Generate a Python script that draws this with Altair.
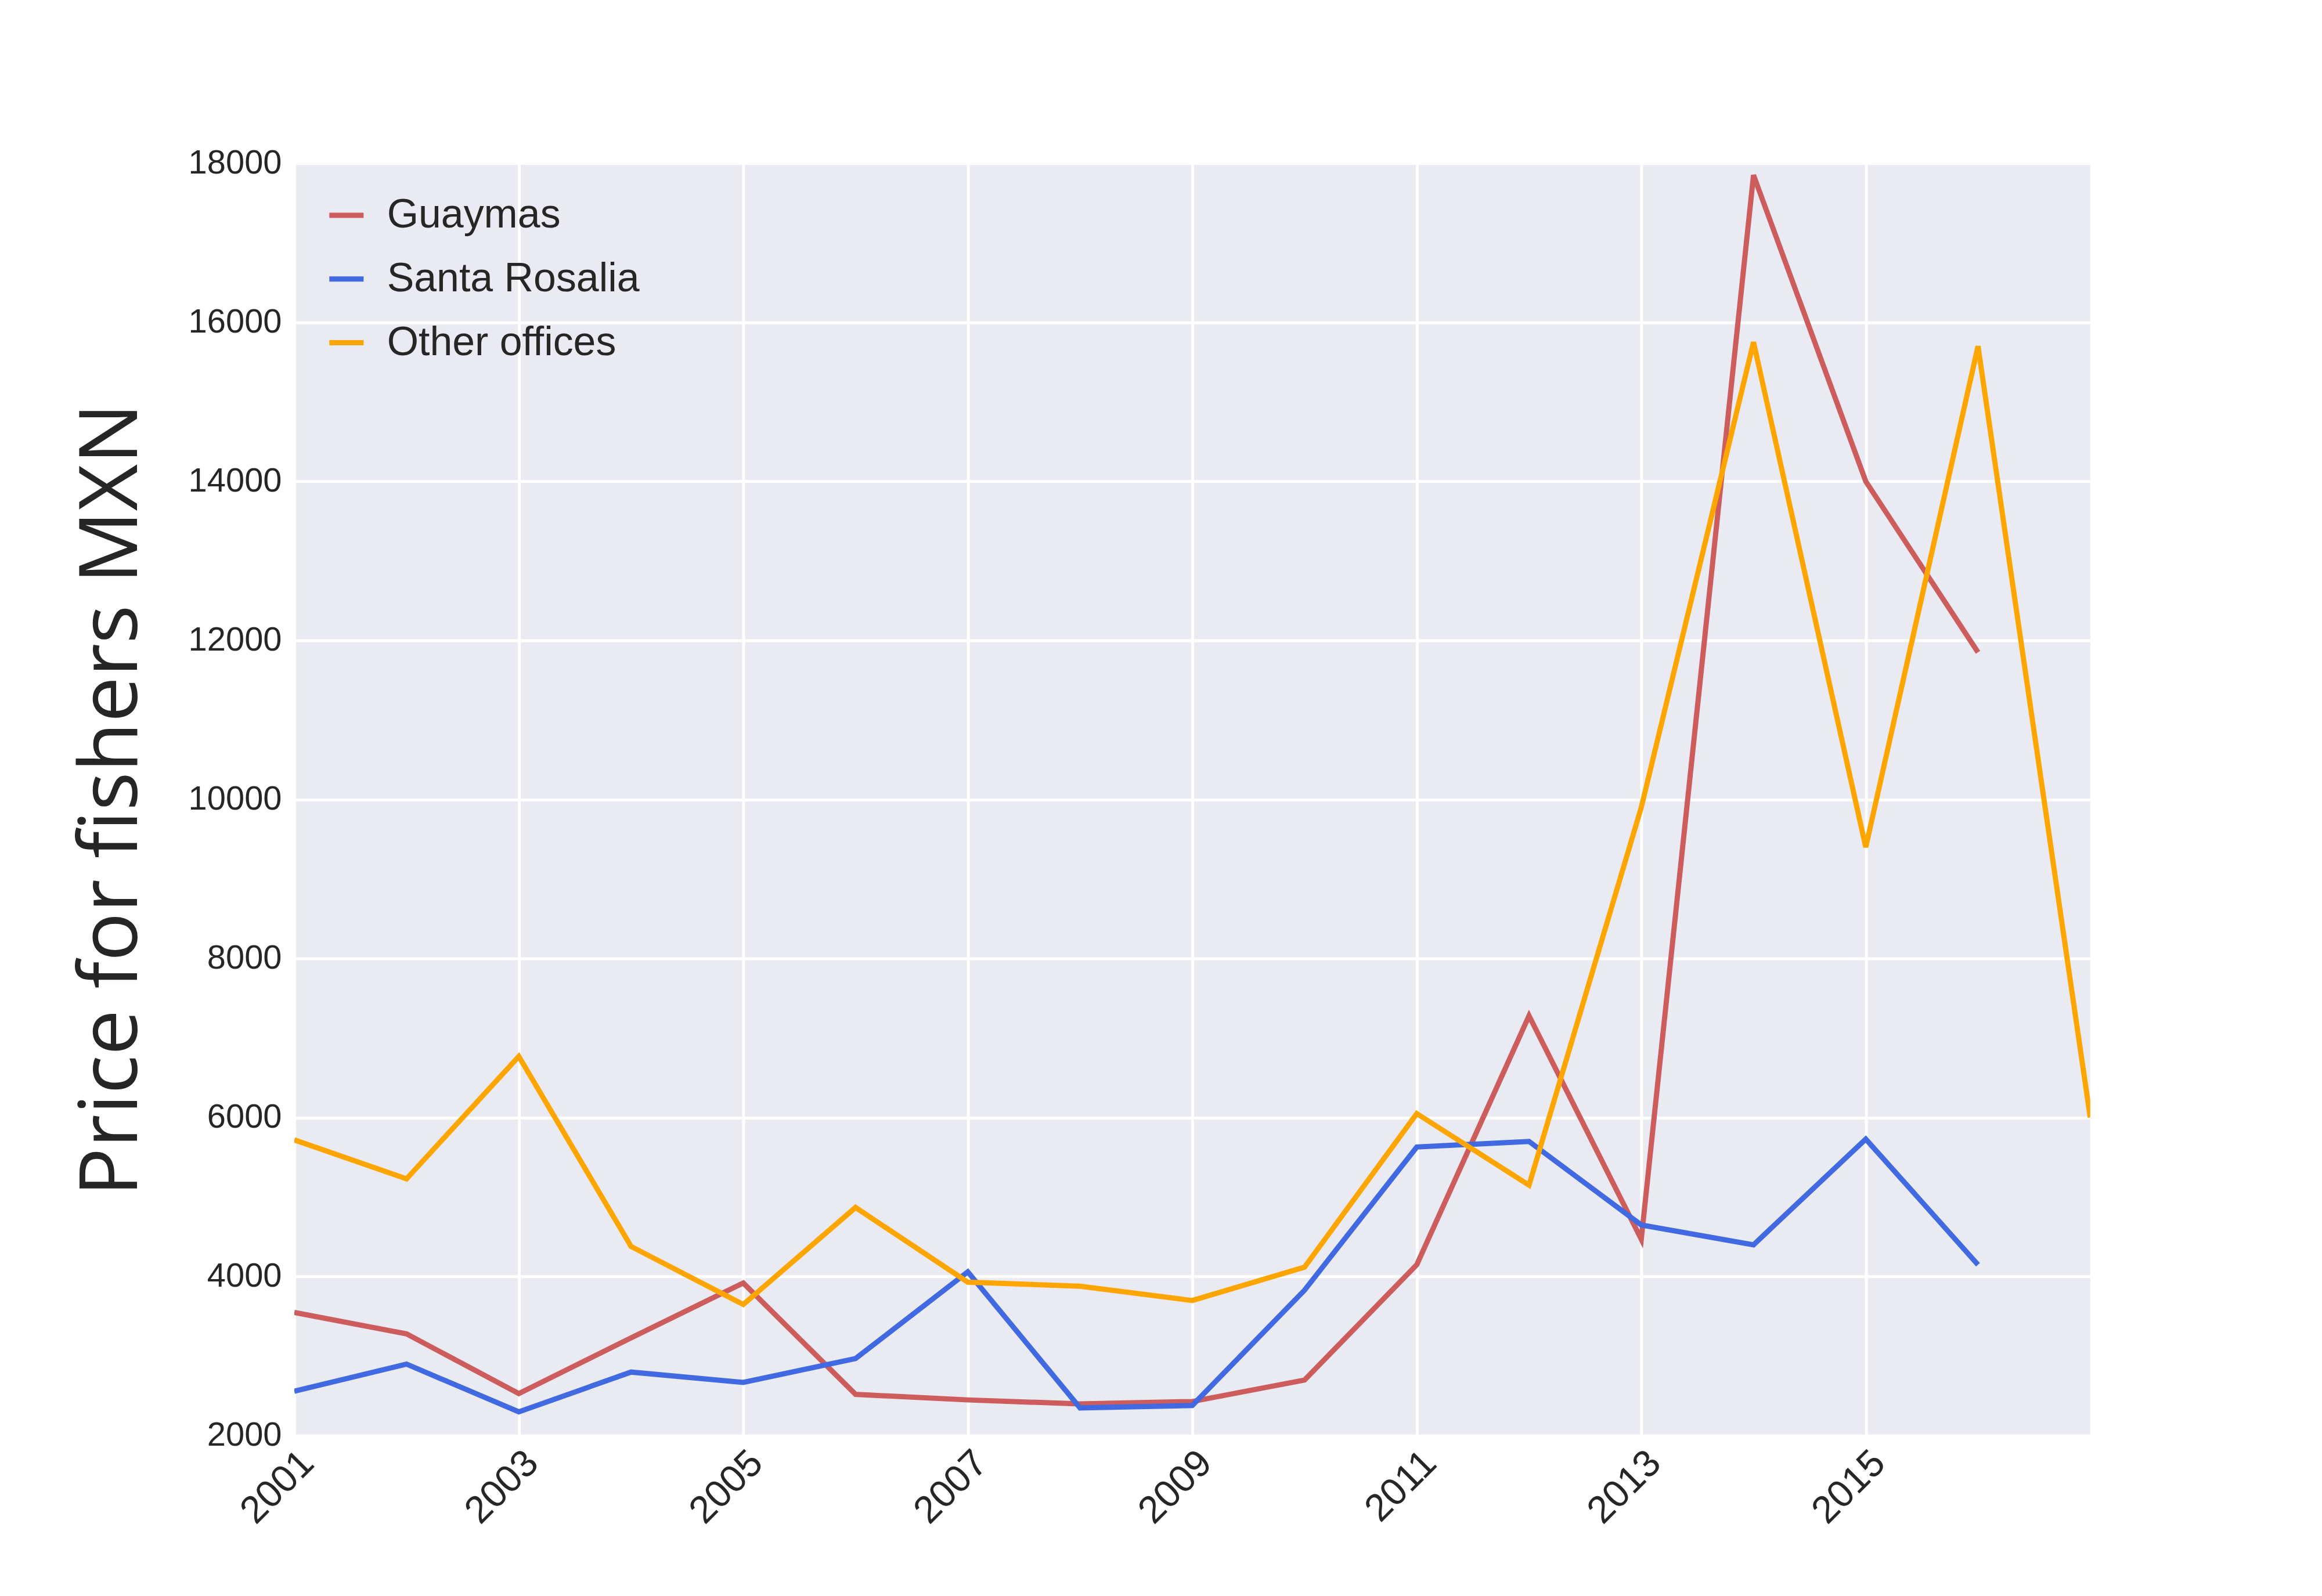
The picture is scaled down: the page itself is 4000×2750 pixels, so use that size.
import altair as alt
import pandas as pd

years = list(range(2001, 2018))
guaymas = [3550, 3280, 2530, 3230, 3920, 2520, 2450, 2400, 2430, 2700, 4150, 7280, 4470, 17850, 14000, 11850]
santa_rosalia = [2560, 2900, 2300, 2800, 2670, 2970, 4060, 2350, 2380, 3830, 5630, 5700, 4650, 4400, 5730, 4150]
other = [5720, 5230, 6770, 4380, 3650, 4870, 3930, 3880, 3700, 4120, 6050, 5150, 9900, 15750, 9400, 15700, 6000]

series = ["Guaymas", "Santa Rosalia", "Other offices"]
colors = ["#CD5C5C", "#4169E1", "#FFA500"]

rows = []
for name, vals in zip(series, [guaymas, santa_rosalia, other]):
    for y, v in zip(years, vals):
        rows.append({"year": y, "price": v, "office": name})
df = pd.DataFrame(rows)

chart = alt.Chart(df).mark_line(strokeWidth=9, clip=True).encode(
    x=alt.X("year:Q", title=None, scale=alt.Scale(domain=[2001, 2017], nice=False, zero=False),
            axis=alt.Axis(values=list(range(2001, 2017, 2)), format="d", labelAngle=-45,
                          labelAlign="right", labelBaseline="top", labelFontSize=66,
                          labelPadding=14)),
    y=alt.Y("price:Q", title="Price for fishers MXN",
            scale=alt.Scale(domain=[2000, 18000], nice=False, zero=False),
            axis=alt.Axis(values=list(range(2000, 18001, 2000)), format="d", labelFontSize=58,
                          titleFontSize=140, titleFontWeight="normal", titlePadding=60,
                          labelPadding=22)),
    color=alt.Color("office:N", scale=alt.Scale(domain=series, range=colors), sort=series,
                    legend=alt.Legend(title=None, orient="none", legendX=55, legendY=55,
                                      labelFontSize=70, labelLimit=0, symbolType="stroke",
                                      symbolSize=3500, symbolStrokeWidth=9, rowPadding=40,
                                      labelOffset=35)),
    detail="office:N",
).properties(
    width=3100, height=2197, padding={"left": 500, "top": 271, "right": 392, "bottom": 274}
).configure(
    background="white", font="Arial",
    autosize=alt.AutoSizeParams(type="none")
).configure_view(
    fill="#EAEAF2", stroke=None
).configure_axis(
    grid=True, gridColor="white", gridWidth=5, domain=False, ticks=False,
    labelColor="#262626", titleColor="#262626", labelFont="Arial", titleFont="Open Sans"
).configure_legend(labelColor="#262626", labelFont="Arial")

chart.save("out.html", embed_options={"renderer": "svg", "actions": False})
